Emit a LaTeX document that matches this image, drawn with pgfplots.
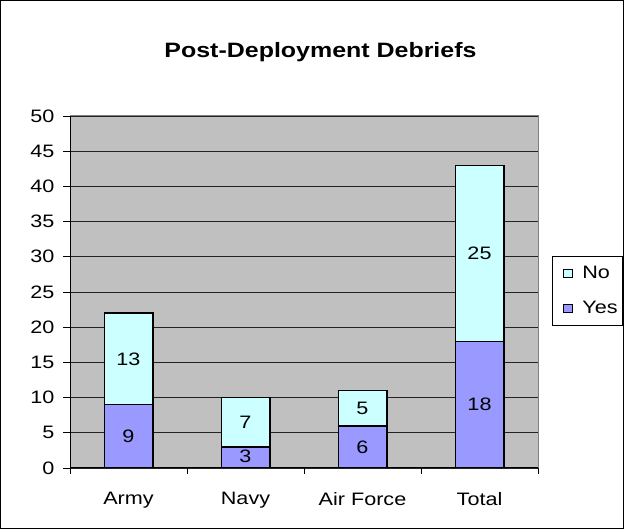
\documentclass[border=0pt]{standalone}
\usepackage{pgfplots}
\pgfplotsset{compat=1.18}
\usepackage{fontspec}
\setmainfont{Liberation Sans}[FakeStretch=1.2]
\definecolor{yescol}{HTML}{9999FF}
\definecolor{nocol}{HTML}{CCFFFF}
\definecolor{plotbg}{HTML}{C0C0C0}
\definecolor{pborder}{HTML}{808080}
\definecolor{gridcol}{HTML}{222222}
\begin{document}
\begin{tikzpicture}
\useasboundingbox (0pt,0pt) rectangle (624pt,529pt);
\draw[black,line width=0.8pt] (0.5pt,0.5pt) rectangle (623.5pt,528.5pt);
\node[font=\fontsize{20.8}{24}\selectfont\bfseries] at (320.5pt,477pt) {Post-Deployment Debriefs};
\begin{axis}[
  at={(70pt,61pt)}, anchor=south west,
  scale only axis, width=468pt, height=352pt,
  ybar stacked, bar width=48.5pt,
  xmin=-0.5, xmax=3.5, ymin=0, ymax=50,
  ytick={0,5,...,50},
  xtick={0,1,2,3},
  xticklabels={Army,Navy,Air Force,Total},
  x tick style={draw=none},
  extra x ticks={-0.5,0.5,1.5,2.5,3.5},
  extra x tick labels={},
  extra x tick style={x tick style={draw=black,line width=0.8pt}, major tick length=6pt, grid=none},
  tick label style={font=\fontsize{18}{21}\selectfont},
  /pgf/number format/assume math mode=true,
  tick align=outside,
  major tick length=7pt,
  y tick style={black,line width=0.8pt},
  ymajorgrids,
  grid style={gridcol,line width=0.9pt},
  axis background/.style={fill=plotbg},
  axis x line*=bottom, axis y line*=left,
  axis line style={black,line width=1pt},
  x tick label style={yshift=-14pt},
  y tick label style={xshift=-5pt},
  legend style={at={(1,0.503)}, anchor=west, xshift=14pt,
    draw=black, line width=0.6pt, font=\fontsize{18}{21}\selectfont,
    row sep=17pt, inner xsep=3pt, inner ysep=8pt},
  legend cell align=left,
  legend image code/.code={\path (0pt,0pt) (24.5pt,0pt);\draw[#1,draw=black,line width=1pt] (8pt,-4.3pt) rectangle (16.6pt,4.3pt);},
  after end axis/.code={
    \draw[pborder,line width=1pt] (rel axis cs:0,1) -- (rel axis cs:1,1) -- (rel axis cs:1,0);
    \node[font=\fontsize{18}{21}\selectfont] at (axis cs:0,4.5) {9};
    \node[font=\fontsize{18}{21}\selectfont] at (axis cs:0,15.5) {13};
    \node[font=\fontsize{18}{21}\selectfont] at (axis cs:1,1.7) {3};
    \node[font=\fontsize{18}{21}\selectfont] at (axis cs:1,6.5) {7};
    \node[font=\fontsize{18}{21}\selectfont] at (axis cs:2,3) {6};
    \node[font=\fontsize{18}{21}\selectfont] at (axis cs:2,8.5) {5};
    \node[font=\fontsize{18}{21}\selectfont] at (axis cs:3,9) {18};
    \node[font=\fontsize{18}{21}\selectfont] at (axis cs:3,30.5) {25};
  },
]
\addlegendimage{fill=nocol}
\addlegendentry{No}
\addlegendimage{fill=yescol}
\addlegendentry{Yes}
\addplot[fill=yescol,draw=black,line width=1.5pt,forget plot] coordinates {(0,9) (1,3) (2,6) (3,18)};
\addplot[fill=nocol,draw=black,line width=1.5pt,forget plot] coordinates {(0,13) (1,7) (2,5) (3,25)};
\end{axis}
\end{tikzpicture}
\end{document}
